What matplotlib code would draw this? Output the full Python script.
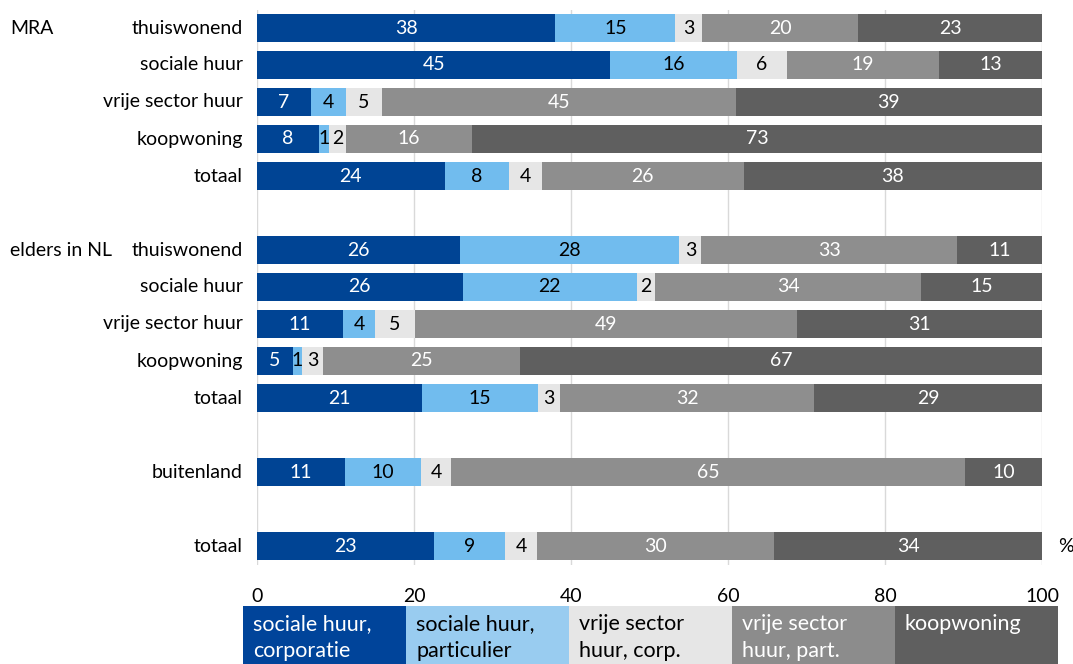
import matplotlib.pyplot as plt
from matplotlib.patches import Rectangle

plt.rcParams['font.family'] = ['Lato', 'DejaVu Sans']

# row labels (None = empty spacer row)
rows = ["thuiswonend", "sociale huur", "vrije sector huur", "koopwoning", "totaal", None,
        "thuiswonend", "sociale huur", "vrije sector huur", "koopwoning", "totaal", None,
        "buitenland", None, "totaal"]
groups = {0: "MRA", 6: "elders in NL"}

series = ["sociale huur,\ncorporatie", "sociale huur,\nparticulier", "vrije sector\nhuur, corp.",
          "vrije sector\nhuur, part.", "koopwoning"]

# per-series values (actual shares), plus rounded labels shown in bars
soc_corp = [38.0, 45.0, 6.9, 7.9, 23.9, None, 25.9, 26.2, 11.0, 4.6, 21.0, None, 11.2, None, 22.5]
soc_part = [15.3, 16.1, 4.4, 1.3, 8.2, None, 27.9, 22.2, 4.0, 1.1, 14.8, None, 9.7, None, 9.1]
vrij_corp = [3.4, 6.4, 4.6, 2.1, 4.2, None, 2.8, 2.3, 5.1, 2.7, 2.8, None, 3.8, None, 4.1]
vrij_part = [19.9, 19.4, 45.1, 16.1, 25.7, None, 32.6, 33.9, 48.7, 25.1, 32.4, None, 65.5, None, 30.2]
koop = [23.4, 13.1, 39.0, 72.6, 38.0, None, 10.8, 15.4, 31.2, 66.5, 29.0, None, 9.8, None, 34.1]

lab_soc_corp = [38, 45, 7, 8, 24, None, 26, 26, 11, 5, 21, None, 11, None, 23]
lab_soc_part = [15, 16, 4, 1, 8, None, 28, 22, 4, 1, 15, None, 10, None, 9]
lab_vrij_corp = [3, 6, 5, 2, 4, None, 3, 2, 5, 3, 3, None, 4, None, 4]
lab_vrij_part = [20, 19, 45, 16, 26, None, 33, 34, 49, 25, 32, None, 65, None, 30]
lab_koop = [23, 13, 39, 73, 38, None, 11, 15, 31, 67, 29, None, 10, None, 34]

xticks = [0, 20, 40, 60, 80, 100]

bar_colors = ["#004494", "#71BCEE", "#E6E6E6", "#8E8E8E", "#5F5F5F"]
leg_colors = ["#00449A", "#99CCF0", "#E6E6E6", "#8C8C8C", "#5F5F5F"]
txt_colors = ["white", "black", "black", "white", "white"]

fs = 14

fig = plt.figure(figsize=(10.73, 6.64), dpi=100)
ax = fig.add_axes([257 / 1073, 1 - 564.5 / 664, 785 / 1073, 555 / 664])

vals = [soc_corp, soc_part, vrij_corp, vrij_part, koop]
labs = [lab_soc_corp, lab_soc_part, lab_vrij_corp, lab_vrij_part, lab_koop]
ypos = [i for i, r in enumerate(rows) if r is not None]

left = [0.0] * len(ypos)
for s in range(5):
    w = [vals[s][i] for i in ypos]
    ax.barh(ypos, w, left=left, height=0.76, color=bar_colors[s], zorder=2)
    for k, i in enumerate(ypos):
        ax.text(left[k] + w[k] / 2, i, str(labs[s][i]), ha="center", va="center",
                color=txt_colors[s], fontsize=fs, zorder=3)
    left = [a + b for a, b in zip(left, w)]

ax.set_xlim(0, 100)
ax.set_ylim(14.5, -0.5)
ax.set_xticks(xticks)
ax.set_xticklabels([str(t) for t in xticks], fontsize=fs)
ax.tick_params(axis="x", length=0, pad=17)
ax.set_yticks([])
ax.grid(axis="x", color="#D9D9D9", linewidth=1, zorder=0)
for sp in ax.spines.values():
    sp.set_visible(False)

for i in ypos:
    ax.text(-1.8, i, rows[i], ha="right", va="center", fontsize=fs)
for i, g in groups.items():
    fig.text(10 / 1073, 1 - (28 + 37 * i) / 664, g, ha="left", va="center", fontsize=fs)
fig.text(1058 / 1073, 1 - 546 / 664, "%", ha="left", va="center", fontsize=fs)

# legend as a row of coloured boxes
bw = 163
for s in range(5):
    x0 = 243 + bw * s
    fig.patches.append(Rectangle((x0 / 1073, 0), bw / 1073, 58 / 664, transform=fig.transFigure,
                                 facecolor=leg_colors[s], edgecolor="none"))
    fig.text((x0 + 10) / 1073, 1 - 614 / 664, series[s], ha="left", va="top",
             color=txt_colors[s], fontsize=15.5, linespacing=1.45)

fig.savefig("out.png", dpi=100)
